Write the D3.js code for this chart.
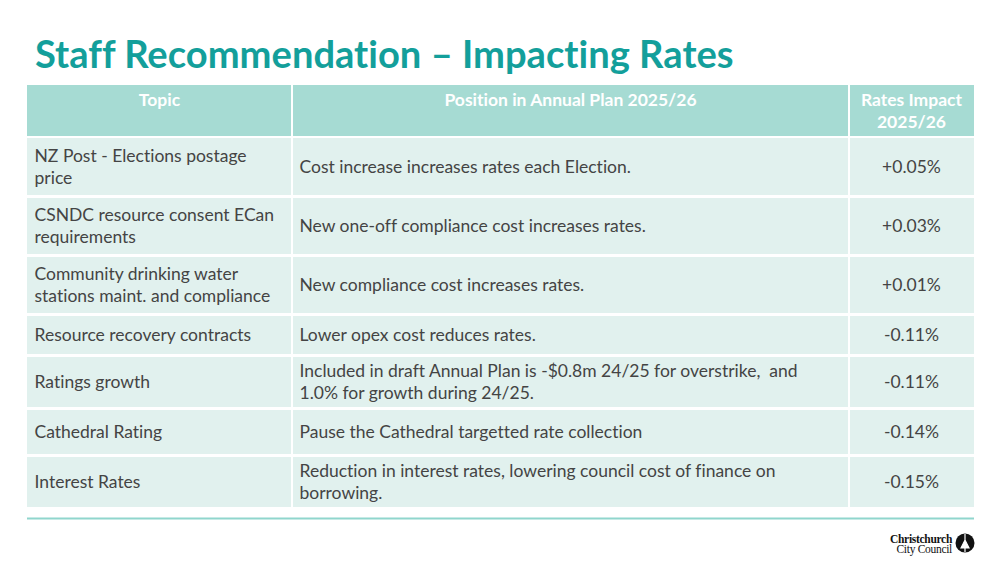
<!DOCTYPE html>
<html>
<head>
<meta charset="utf-8">
<script src="https://cdn.jsdelivr.net/npm/d3@7"></script>
<style>
  html, body { margin: 0; padding: 0; background: #ffffff; }
  svg { display: block; }
  svg text { font-variant-ligatures: none; font-feature-settings: "liga" 0, "clig" 0; white-space: pre; }
</style>
</head>
<body>
<svg id="chart" width="1003" height="565"></svg>
<script>
// ---- Data ----
const titleText = "Staff Recommendation – Impacting Rates";
const columnHeaders = ["Topic", "Position in Annual Plan 2025/26", "Rates Impact\n2025/26"];
const topics = [
  "NZ Post - Elections postage\nprice",
  "CSNDC resource consent ECan\nrequirements",
  "Community drinking water\nstations maint. and compliance",
  "Resource recovery contracts",
  "Ratings growth",
  "Cathedral Rating",
  "Interest Rates"
];
const positions = [
  "Cost increase increases rates each Election.",
  "New one-off compliance cost increases rates.",
  "New compliance cost increases rates.",
  "Lower opex cost reduces rates.",
  "Included in draft Annual Plan is -$0.8m 24/25 for overstrike,  and\n1.0% for growth during 24/25.",
  "Pause the Cathedral targetted rate collection",
  "Reduction in interest rates, lowering council cost of finance on\nborrowing."
];
const impacts = ["+0.05%", "+0.03%", "+0.01%", "-0.11%", "-0.11%", "-0.14%", "-0.15%"];
const logoLines = ["Christchurch", "City Council"];

// ---- Layout / style ----
const colEdges = [27, 292, 849, 974];
const headerTop = 85, headerH = 51;
const rowTop = 138, rowGap = 3;
const rowHeights = [57, 56, 56, 38, 50, 44, 50];
const C = {
  title: "#139f9b", header: "#a6dbd3", cell: "#e1f1ee",
  text: "#444444", rule: "#90d6cd"
};
const FONT = "Lato, 'Noto Sans', sans-serif";

const svg = d3.select("#chart");

// measure helper for fitting font sizes to reference widths
function measure(str, size, weight) {
  const t = svg.append("text").attr("font-family", FONT)
    .attr("font-size", size).attr("font-weight", weight).text(str);
  const w = t.node().getComputedTextLength();
  t.remove();
  return w;
}
const bodySize = Math.min(17.5, 100 * 338 / measure(positions[0], 100, 400));
const headSize = Math.min(17.5, 100 * 260 / measure(columnHeaders[1], 100, 700));
const titleSize = 100 * 699 / measure(titleText, 100, 700);

// scales
const rowY = [];
let acc = rowTop;
rowHeights.forEach(h => { rowY.push(acc); acc += h + rowGap; });
const yScale = d3.scaleOrdinal().domain(d3.range(topics.length)).range(rowY);
const hScale = d3.scaleOrdinal().domain(d3.range(topics.length)).range(rowHeights);

// Title
svg.append("text")
  .attr("x", 35).attr("y", 68)
  .attr("font-family", FONT).attr("font-weight", 700)
  .attr("font-size", titleSize).attr("fill", C.title)
  .text(titleText);

// Header
const colX0 = i => colEdges[i] + (i === 0 ? 0 : 1);
const colX1 = i => colEdges[i + 1] - (i === 2 ? 0 : 1);

const head = svg.append("g");
columnHeaders.forEach((h, i) => {
  head.append("rect")
    .attr("x", colX0(i)).attr("y", headerTop)
    .attr("width", colX1(i) - colX0(i)).attr("height", headerH)
    .attr("fill", C.header);
  const cx = (colEdges[i] + colEdges[i + 1]) / 2;
  const t = head.append("text")
    .attr("x", cx).attr("y", headerTop + 21)
    .attr("text-anchor", "middle")
    .attr("font-family", FONT).attr("font-weight", 700)
    .attr("font-size", headSize).attr("fill", "#ffffff");
  h.split("\n").forEach((ln, k) => {
    t.append("tspan").attr("x", cx).attr("dy", k === 0 ? 0 : 22).text(ln);
  });
});

// Body
const rows = topics.map((t, i) => ({ i, cells: [t, positions[i], impacts[i]] }));
const lineH = 22;
const rowG = svg.selectAll("g.row").data(rows).join("g").attr("class", "row");

rowG.each(function(d) {
  const g = d3.select(this);
  const y0 = yScale(d.i), h = hScale(d.i);
  d.cells.forEach((txt, c) => {
    g.append("rect")
      .attr("x", colX0(c)).attr("y", y0)
      .attr("width", colX1(c) - colX0(c)).attr("height", h)
      .attr("fill", C.cell);
    const lines = txt.split("\n");
    const anchor = c === 2 ? "middle" : "start";
    const x = c === 2 ? (colEdges[2] + colEdges[3]) / 2 : colEdges[c] + 7.5;
    const cy = y0 + h / 2;
    const firstBase = cy + 6 - (lines.length - 1) * lineH / 2;
    const t = g.append("text")
      .attr("x", x).attr("y", firstBase)
      .attr("text-anchor", anchor)
      .attr("font-family", FONT).attr("font-size", bodySize)
      .attr("fill", C.text);
    lines.forEach((ln, k) => {
      t.append("tspan").attr("x", x).attr("dy", k === 0 ? 0 : lineH).text(ln);
    });
  });
});

// bottom rule
svg.append("line")
  .attr("x1", colEdges[0]).attr("x2", colEdges[3])
  .attr("y1", 518.5).attr("y2", 518.5)
  .attr("stroke", C.rule).attr("stroke-width", 2);

// Logo
const logo = svg.append("g");
logo.append("text").attr("x", 952).attr("y", 543)
  .attr("text-anchor", "end")
  .attr("font-family", "'Liberation Serif', 'DejaVu Serif', serif")
  .attr("font-weight", 700).attr("font-size", 11.5).attr("fill", "#111")
  .attr("letter-spacing", -0.3)
  .text(logoLines[0]);
logo.append("text").attr("x", 952).attr("y", 553)
  .attr("text-anchor", "end")
  .attr("font-family", "'Liberation Serif', 'DejaVu Serif', serif")
  .attr("font-size", 11.5).attr("fill", "#111")
  .attr("letter-spacing", -0.3)
  .text(logoLines[1]);
logo.append("circle").attr("cx", 965).attr("cy", 543).attr("r", 9.5).attr("fill", "#111");
logo.append("path")
  .attr("d", "M965,534 L965,552 M961,548 L965,540 L969,548 Z")
  .attr("stroke", "#fff").attr("stroke-width", 1.2).attr("fill", "#fff");
</script>
</body>
</html>
